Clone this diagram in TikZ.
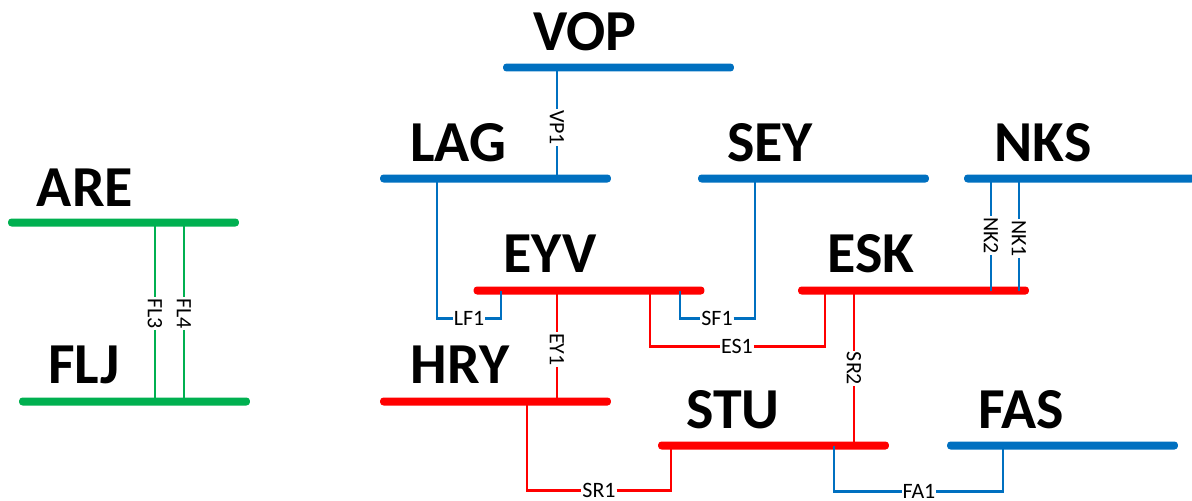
\documentclass[tikz,border=0pt]{standalone}
\usepackage{fontspec}
\setmainfont{Carlito}
\usetikzlibrary{calc, positioning}
\definecolor{busblue}{HTML}{0070C0}
\definecolor{busred}{HTML}{FF0000}
\definecolor{busgreen}{HTML}{00B050}
\tikzset{
  busbar/.style={rectangle, rounded corners=0.07cm, inner sep=0pt, minimum width=4.62cm, minimum height=0.16cm},
  busname/.style={anchor=base, inner sep=0pt, font=\fontsize{33}{36}\selectfont\bfseries},
  hlabel/.style={inner sep=0.4pt, font=\fontsize{12.5}{14}\selectfont, text=black},
  vlabel/.style={hlabel, rotate=-90},
  bluelink/.style={draw=busblue, line width=1.6pt},
  redlink/.style={draw=busred, line width=1.6pt},
  greenlink/.style={draw=busgreen, line width=1.6pt}
}

\begin{document}
\begin{tikzpicture}[x=0.02cm, y=-0.02cm]
\useasboundingbox (0, -0.5) rectangle (1192, 499.5);

% Bus bars
\node[busbar, fill=busblue] (vop) at (618.5, 67) {};
\node[busbar, fill=busblue] (lag) at (495.5, 178) {};
\node[busbar, fill=busblue] (sey) at (813.5, 178) {};
\node[busbar, fill=busblue] (nks) at (1079.5, 178) {};
\node[busbar, fill=busred] (eyv) at (589, 290) {};
\node[busbar, fill=busred] (esk) at (913.5, 290) {};
\node[busbar, fill=busred] (hry) at (495.5, 401) {};
\node[busbar, fill=busred] (stu) at (773.5, 445) {};
\node[busbar, fill=busblue] (fas) at (1062.5, 445) {};
\node[busbar, fill=busgreen] (are) at (123.5, 222) {};
\node[busbar, fill=busgreen] (flj) at (134.5, 401) {};

% Bus names
\node[busname] (vopname) at (585, 50) {VOP};
\node[busname] (lagname) at (458, 161) {LAG};
\node[busname] (seyname) at (770, 161) {SEY};
\node[busname] (nksname) at (1043, 161) {NKS};
\node[busname] (eyvname) at (550, 272) {EYV};
\node[busname] (eskname) at (871, 272) {ESK};
\node[busname] (hryname) at (460, 383) {HRY};
\node[busname] (stuname) at (733, 428) {STU};
\node[busname] (fasname) at (1021, 428) {FAS};
\node[busname] (arename) at (85, 206) {ARE};
\node[busname] (fljname) at (84, 383) {FLJ};

% Line labels
\node[vlabel] (vp1) at (557, 127) {VP1};
\node[hlabel] (lf1) at (469, 318) {LF1};
\node[hlabel] (sf1) at (717, 318) {SF1};
\node[hlabel] (es1) at (737, 346) {ES1};
\node[vlabel] (ey1) at (557, 349) {EY1};
\node[hlabel] (sr1) at (599, 490) {SR1};
\node[vlabel] (sr2) at (854, 368) {SR2};
\node[hlabel] (fa1) at (919, 491) {FA1};
\node[vlabel] (nk2) at (991, 235) {NK2};
\node[vlabel] (nk1) at (1019, 238) {NK1};
\node[vlabel] (fl3) at (155, 313) {FL3};
\node[vlabel] (fl4) at (184, 313) {FL4};

% Red lines
\draw[redlink] (557, 0 |- eyv) -- (ey1) -- (557, 0 |- hry);
\draw[redlink] (650, 0 |- eyv) |- (es1) -| (825, 0 |- esk);
\draw[redlink] (527, 0 |- hry) |- (sr1) -| (671, 0 |- stu);
\draw[redlink] (854, 0 |- esk) -- (sr2) -- (854, 0 |- stu);

% Blue lines
\draw[bluelink] (557, 0 |- vop) -- (vp1) -- (557, 0 |- lag);
\draw[bluelink] (437, 0 |- lag) |- (lf1) -| (501, 0 |- eyv);
\draw[bluelink] (680, 0 |- eyv) |- (sf1) -| (755, 0 |- sey);
\draw[bluelink] (834, 0 |- stu) |- (fa1) -| (1003, 0 |- fas);
\draw[bluelink] (991, 0 |- nks) -- (nk2) -- (991, 0 |- esk);
\draw[bluelink] (1019, 0 |- nks) -- (nk1) -- (1019, 0 |- esk);

% Green lines
\draw[greenlink] (155, 0 |- are) -- (fl3) -- (155, 0 |- flj);
\draw[greenlink] (184, 0 |- are) -- (fl4) -- (184, 0 |- flj);
\end{tikzpicture}
\end{document}
